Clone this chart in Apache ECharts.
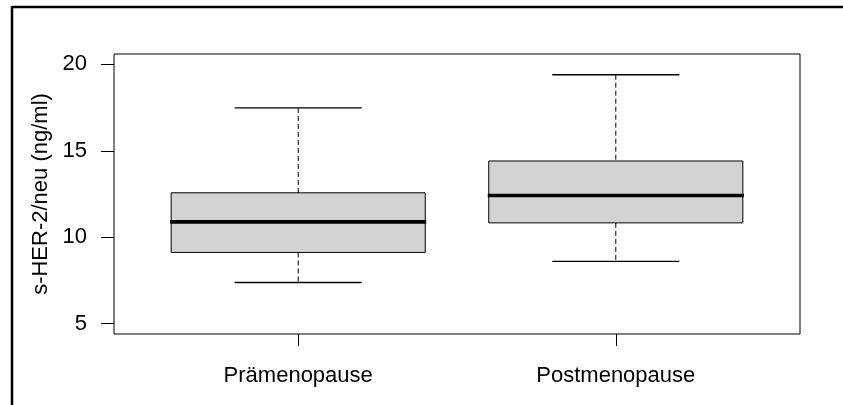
<!DOCTYPE html>
<html>
<head>
<meta charset="utf-8">
<script src="https://cdn.jsdelivr.net/npm/echarts@6/dist/echarts.min.js"></script>
<style>
  html, body { margin: 0; padding: 0; background: #fff; }
  #chart { width: 843px; height: 405px; }
</style>
</head>
<body>
<div id="chart"></div>
<script>
// s-HER-2/neu serum levels by menopausal status (five-number summaries)
const categories = ['Prämenopause', 'Postmenopause'];
const lowerWhisker = [7.38, 8.60];
const lowerQuartile = [9.12, 10.83];
const median = [10.89, 12.41];
const upperQuartile = [12.57, 14.41];
const upperWhisker = [17.48, 19.40];
const yTicks = [5, 10, 15, 20];

const FONT = '"Liberation Sans", Arial, sans-serif';

const boxData = categories.map((c, i) => [
  i + 1, lowerWhisker[i], lowerQuartile[i], median[i], upperQuartile[i], upperWhisker[i]
]);

function renderBox(params, api) {
  const x = api.value(0);
  const lo = api.coord([x, api.value(1)]);
  const q1 = api.coord([x, api.value(2)]);
  const md = api.coord([x, api.value(3)]);
  const q3 = api.coord([x, api.value(4)]);
  const hi = api.coord([x, api.value(5)]);
  const boxW = api.size([0.8, 0])[0];
  const capW = api.size([0.4, 0])[0];
  const cx = lo[0];
  const dash = { stroke: '#000', lineWidth: 1, lineDash: [5, 3] };
  const solid = { stroke: '#000', lineWidth: 1.3 };
  return {
    type: 'group',
    children: [
      { type: 'line', shape: { x1: cx, y1: hi[1], x2: cx, y2: q3[1] }, style: dash },
      { type: 'line', shape: { x1: cx, y1: q1[1], x2: cx, y2: lo[1] }, style: dash },
      { type: 'line', shape: { x1: cx - capW / 2, y1: hi[1], x2: cx + capW / 2, y2: hi[1] }, style: solid },
      { type: 'line', shape: { x1: cx - capW / 2, y1: lo[1], x2: cx + capW / 2, y2: lo[1] }, style: solid },
      {
        type: 'rect',
        shape: { x: cx - boxW / 2, y: q3[1], width: boxW, height: q1[1] - q3[1] },
        style: { fill: '#d3d3d3', stroke: '#000', lineWidth: 1 }
      },
      {
        type: 'line',
        shape: { x1: cx - boxW / 2 - 1, y1: md[1], x2: cx + boxW / 2 + 1, y2: md[1] },
        style: { stroke: '#000', lineWidth: 3.6 }
      }
    ]
  };
}

const chart = echarts.init(document.getElementById('chart'), null, { renderer: 'canvas' });
chart.setOption({
  animation: false,
  backgroundColor: '#fff',
  grid: {
    left: 114, right: 43, top: 54, bottom: 71,
    show: true, borderColor: '#000', borderWidth: 1, backgroundColor: 'transparent'
  },
  xAxis: {
    type: 'value',
    min: 0.42, max: 2.58,
    axisLine: { show: false },
    splitLine: { show: false },
    axisTick: { show: true, customValues: [1, 2], length: 12, lineStyle: { color: '#000', width: 1 } },
    axisLabel: {
      customValues: [1, 2],
      formatter: v => categories[Math.round(v) - 1],
      margin: 31,
      color: '#000', fontSize: 22, fontFamily: FONT
    }
  },
  yAxis: {
    type: 'value',
    min: 4.4, max: 20.6,
    axisLine: { show: false },
    splitLine: { show: false },
    axisTick: { show: true, customValues: yTicks, length: 13, lineStyle: { color: '#000', width: 1 } },
    axisLabel: {
      customValues: yTicks,
      margin: 27,
      color: '#000', fontSize: 22, fontFamily: FONT
    },
    name: 's-HER-2/neu (ng/ml)',
    nameLocation: 'middle',
    nameGap: 61,
    nameTextStyle: { color: '#000', fontSize: 22, fontFamily: FONT }
  },
  series: [{
    type: 'custom',
    renderItem: renderBox,
    data: boxData,
    encode: { x: 0, y: [1, 2, 3, 4, 5] },
    clip: false
  }],
  graphic: [
    { type: 'line', shape: { x1: 12, y1: 7, x2: 843, y2: 7 }, style: { stroke: '#000', lineWidth: 2.5 } },
    { type: 'line', shape: { x1: 12, y1: 6, x2: 12, y2: 405 }, style: { stroke: '#000', lineWidth: 2.5 } }
  ]
});
</script>
</body>
</html>
